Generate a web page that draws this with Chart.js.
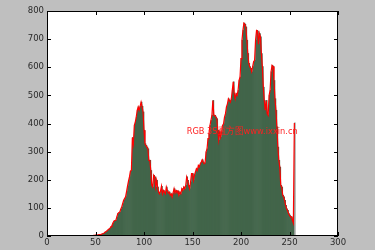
<!DOCTYPE html>
<html>
<head>
<meta charset="utf-8">
<script src="https://cdn.jsdelivr.net/npm/chart.js@4/dist/chart.umd.min.js"></script>
<style>
  html, body { margin: 0; padding: 0; background: #bfbfbf; }
</style>
</head>
<body>
<canvas id="hist" width="375" height="250"></canvas>
<script>
// histogram counts, one per grey level 0..255
var counts = [
  0, 0, 0, 0, 0, 0, 0, 0, 0, 0, 0, 0, 0, 0, 0, 0,
  0, 0, 0, 0, 0, 0, 0, 0, 0, 0, 0, 0, 0, 0, 0, 0,
  0, 0, 0, 0, 0, 0, 0, 0, 0, 0, 0, 0, 0, 1, 1, 1,
  2, 2, 3, 2, 3, 4, 5, 4, 6, 8, 9, 11, 14, 16, 19, 22,
  25, 28, 33, 38, 46, 53, 55, 56, 68, 80, 83, 85, 95, 103, 115, 127,
  133, 139, 158, 177, 195, 210, 231, 233, 350, 328, 393, 405, 423, 447, 459, 447,
  461, 476, 461, 441, 376, 328, 322, 316, 310, 269, 269, 233, 180, 174, 216, 210,
  174, 198, 174, 156, 150, 160, 177, 150, 162, 156, 150, 174, 162, 153, 156, 145,
  150, 139, 153, 168, 153, 162, 156, 160, 145, 156, 150, 168, 162, 174, 168, 180,
  210, 198, 180, 168, 192, 222, 222, 198, 216, 228, 239, 233, 251, 245, 257, 263,
  271, 263, 257, 260, 299, 310, 346, 364, 393, 411, 429, 482, 429, 429, 423, 417,
  376, 341, 370, 352, 370, 393, 399, 423, 435, 459, 470, 488, 482, 476, 488, 518,
  548, 506, 488, 506, 500, 518, 553, 565, 631, 696, 731, 757, 753, 743, 696, 649,
  614, 602, 596, 584, 602, 620, 625, 696, 731, 729, 682, 720, 708, 649, 602, 529,
  482, 447, 482, 435, 429, 500, 518, 584, 607, 603, 553, 488, 447, 388, 316, 269,
  245, 180, 174, 145, 139, 127, 109, 97, 91, 80, 74, 68, 68, 56, 46, 402
]
var xTicks = [0, 50, 100, 150, 200, 250, 300]
var yTicks = [0, 100, 200, 300, 400, 500, 600, 700, 800]
var caption = "RGB 3S直方图www.ixxin.cn"
var captionAt = [144, 363]

// bars sit on [i, i+1], the red curve goes through the left edges
var barPoints = counts.map((c, i) => ({ x: i + 0.5, y: c }))
var linePoints = counts.map((c, i) => ({ x: i, y: c }))
var barColors = counts.map((c, i) => i == 255 ? "#9a9e9a" : "#42654a")

// grey figure, white axes, black frame, inward ticks, red caption
var mplLook = {
    id: "mplLook",
    beforeDraw(chart) {
        let ctx = chart.ctx, a = chart.chartArea
        ctx.save()
        ctx.fillStyle = "#bfbfbf"
        ctx.fillRect(0, 0, chart.width, chart.height)
        ctx.fillStyle = "#ffffff"
        ctx.fillRect(a.left, a.top, a.right - a.left, a.bottom - a.top)
        ctx.restore()
    },
    afterDraw(chart) {
        let ctx = chart.ctx, a = chart.chartArea
        let xs = chart.scales.x, ys = chart.scales.y
        ctx.save()
        ctx.strokeStyle = "#000000"
        ctx.lineWidth = 1
        ctx.strokeRect(Math.round(a.left) + 0.5, Math.round(a.top) + 0.5,
            Math.round(a.right - a.left) - 1, Math.round(a.bottom - a.top) - 1)
        ctx.beginPath()
        xTicks.forEach(v => {
            let px = Math.round(xs.getPixelForValue(v)) + 0.5
            ctx.moveTo(px, a.bottom); ctx.lineTo(px, a.bottom - 4)
            ctx.moveTo(px, a.top); ctx.lineTo(px, a.top + 4)
        })
        yTicks.forEach(v => {
            let py = Math.round(ys.getPixelForValue(v)) + 0.5
            ctx.moveTo(a.left, py); ctx.lineTo(a.left + 4, py)
            ctx.moveTo(a.right, py); ctx.lineTo(a.right - 4, py)
        })
        ctx.stroke()

        ctx.fillStyle = "#ff2020"
        ctx.font = "9.5px 'DejaVu Sans'"
        ctx.textBaseline = "alphabetic"
        ctx.fillText(caption, xs.getPixelForValue(captionAt[0]), ys.getPixelForValue(captionAt[1]), 111)
        ctx.restore()
    }
}

new Chart("hist", {
    type: "bar",
    data: {
        datasets: [{
            type: "line",
            data: linePoints,
            borderColor: "#ff0000",
            borderWidth: 1.2,
            pointRadius: 0,
            tension: 0,
            order: 0
        }, {
            type: "bar",
            data: barPoints,
            backgroundColor: barColors,
            borderWidth: 0,
            barPercentage: 1,
            categoryPercentage: 1,
            order: 1
        }]
    },
    options: {
        responsive: false,
        animation: false,
        events: [],
        layout: { padding: { top: 11, right: 37, left: 0, bottom: 0 } },
        plugins: { legend: { display: false }, tooltip: { enabled: false } },
        scales: {
            x: {
                type: "linear",
                offset: false,
                min: 0, max: 300,
                grid: { display: false, drawTicks: false },
                border: { display: false },
                afterFit: s => { s.height = 14 },
                afterBuildTicks: s => { s.ticks = xTicks.map(v => ({ value: v })) },
                ticks: { padding: 2, color: "#2a2a2a", font: { family: "DejaVu Sans", size: 8.5 }, maxRotation: 0 }
            },
            y: {
                min: 0, max: 800,
                grid: { display: false, drawTicks: false },
                border: { display: false },
                afterFit: s => { s.width = 47 },
                afterBuildTicks: s => { s.ticks = yTicks.map(v => ({ value: v })) },
                ticks: { padding: 3, color: "#2a2a2a", font: { family: "DejaVu Sans", size: 8.5 } }
            }
        }
    },
    plugins: [mplLook]
})
</script>
</body>
</html>
